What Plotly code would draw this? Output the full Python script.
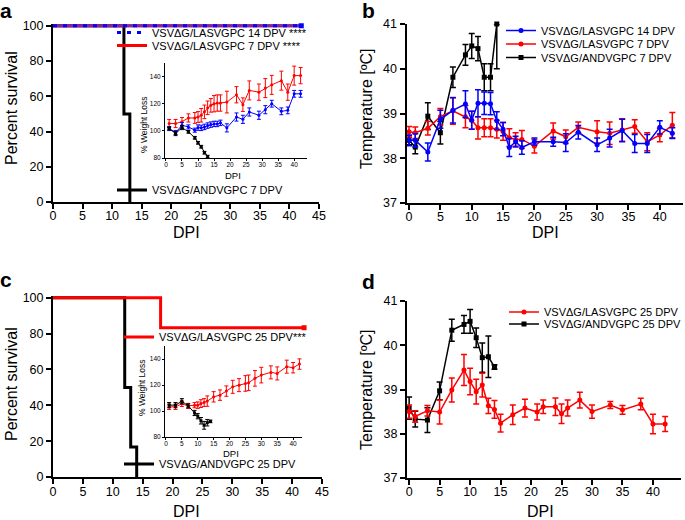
import plotly.graph_objects as go

FONT = "Liberation Sans, Arial, Helvetica, sans-serif"
BLUE = "#0000FF"
RED = "#FF0000"
BLACK = "#000000"
PURPLE = "#7A2AA6"

# ---------------- Panel a : survival ----------------
a_las14_days = [0, 42]
a_las14_pct = [100, 100]
a_las7_days = [0, 42]
a_las7_pct = [100, 100]
a_andv_days = [0, 12, 13]
a_andv_pct = [100, 50, 0]

# Panel a inset : % weight
wa_days = [1, 3, 5, 7, 9, 10, 11, 12, 13, 14, 15, 16, 17, 19, 22, 24, 26, 29, 31, 33, 36, 38, 40, 42]
wa_las7 = [105.4, 105.4, 106.8, 109.5, 109.5, 110.2, 111.5, 114, 117, 118.8, 120, 120.5, 120.5,
           121.2, 126.6, 119.3, 129.8, 128.5, 131.5, 133.9, 137, 128.5, 140.7, 140.7]
wa_las7_err = [3, 3, 3, 3, 4, 4, 5, 5, 5, 5, 6, 6, 6, 8, 6, 5, 7, 6, 7, 7, 7, 6, 7, 6]
wa_las14 = [101.7, 98.8, 104.1, 102.9, 100.5, 102.4, 102.2, 102.9, 103.9, 104.6, 105.1, 105.1, 105.9,
            102.2, 110.2, 108.5, 113.9, 111.5, 115.6, 120, 114.4, 115.1, 127.3, 127.3]
wa_las14_err = [1.5, 1.5, 2, 1.5, 1.5, 2, 2, 2, 2, 2, 2, 2, 2, 3, 3, 3, 3, 3, 3, 2.5, 2.5, 2.5, 2.5, 2.5]
wa_andv_days = [1, 3, 5, 7, 9, 10, 11, 12, 13]
wa_andv = [101.7, 98.0, 102.4, 99.3, 94.9, 91.2, 88.3, 83.9, 81.0]
wa_andv_err = [1, 1.5, 1.5, 1, 1, 1, 1, 1, 1]

# ---------------- Panel b : temperature ----------------
b_days = [0, 1, 3, 5, 7, 9, 10, 11, 12, 13, 14, 15, 16, 17, 18, 20, 23, 25, 27, 30, 32, 34, 36, 38, 40, 42]
b_las14 = [38.40, 38.40, 38.14, 38.87, 39.07, 39.21, 38.85, 39.23, 39.23, 39.22, 38.84, 38.65, 38.24,
           38.37, 38.24, 38.37, 38.37, 38.35, 38.58, 38.30, 38.45, 38.62, 38.33, 38.33, 38.69, 38.56]
b_las14_err = [0.12, 0.15, 0.2, 0.2, 0.28, 0.3, 0.2, 0.3, 0.25, 0.25, 0.2, 0.15, 0.2, 0.12, 0.15,
               0.08, 0.1, 0.2, 0.15, 0.15, 0.2, 0.25, 0.2, 0.2, 0.15, 0.12]
b_las7 = [38.59, 38.57, 38.67, 38.93, 39.06, 38.93, 38.85, 38.68, 38.68, 38.68, 38.65, 38.60, 38.46,
          38.42, 38.42, 38.27, 38.61, 38.48, 38.69, 38.59, 38.56, 38.63, 38.71, 38.37, 38.52, 38.74]
b_las7_err = [0.12, 0.13, 0.15, 0.18, 0.3, 0.25, 0.2, 0.25, 0.2, 0.2, 0.2, 0.2, 0.2, 0.15, 0.2,
              0.15, 0.18, 0.15, 0.12, 0.25, 0.25, 0.25, 0.15, 0.2, 0.15, 0.28]
b_andv_days = [0, 1, 3, 5, 7, 9, 10, 11, 12, 13, 14]
b_andv = [38.40, 38.25, 38.94, 38.57, 39.81, 40.31, 40.51, 40.45, 39.81, 39.81, 41.0]
b_andv_err_plus = [0.1, 0.15, 0.3, 0.25, 0.23, 0.23, 0.28, 0.27, 0.3, 0.3, 0.0]
b_andv_err_minus = [0.1, 0.15, 0.3, 0.25, 0.23, 0.23, 0.28, 0.27, 0.3, 0.3, 1.0]

# ---------------- Panel c : survival ----------------
c_las25_days = [0, 18, 42]
c_las25_pct = [100, 83.3, 83.3]
c_andv_days = [0, 12, 13, 14]
c_andv_pct = [100, 50, 16.7, 0]

# Panel c inset : % weight
wc_las_days = [1, 3, 5, 7, 9, 10, 11, 12, 13, 15, 17, 19, 21, 23, 25, 26, 28, 30, 33, 35, 38, 40, 42]
wc_las = [103.2, 103.2, 105.5, 103.9, 104.5, 104.5, 105.7, 106.5, 107.6, 110.9, 112.2, 115.3, 118.6,
          119.9, 121.2, 121.7, 125.1, 127.6, 129.7, 128.9, 134.1, 133.3, 136.1]
wc_las_err = [2, 2, 2, 2, 2, 2.5, 3, 3, 4, 4, 4, 4, 5, 5, 6, 6, 6, 6, 5, 5, 5, 4, 4]
wc_andv_days = [1, 3, 5, 7, 9, 10, 11, 12, 13, 14]
wc_andv = [104.5, 104.5, 107.5, 104.0, 98.5, 96.0, 92.5, 89.0, 91.0, 92.0]
wc_andv_err = [2, 2, 2, 1.5, 2, 2, 2.5, 3, 2.5, 1]

# ---------------- Panel d : temperature ----------------
d_las_days = [0, 1, 3, 5, 7, 9, 10, 11, 12, 13, 14, 15, 17, 19, 21, 22, 24, 25, 26, 28, 30, 33, 35, 38, 40, 42]
d_las = [38.50, 38.39, 38.52, 38.49, 38.99, 39.44, 39.18, 38.95, 39.10, 38.63, 38.55, 38.24, 38.43,
         38.58, 38.49, 38.61, 38.61, 38.45, 38.58, 38.76, 38.50, 38.65, 38.54, 38.67, 38.22, 38.22]
d_las_err = [0.15, 0.13, 0.12, 0.27, 0.27, 0.35, 0.3, 0.28, 0.27, 0.17, 0.2, 0.2, 0.22, 0.2, 0.18,
             0.15, 0.2, 0.22, 0.18, 0.18, 0.15, 0.08, 0.1, 0.13, 0.22, 0.17]
d_andv_days = [0, 1, 3, 5, 7, 9, 10, 11, 12, 13, 14]
d_andv = [38.58, 38.33, 38.31, 38.97, 40.34, 40.47, 40.54, 40.17, 39.72, 39.74, 39.51]
d_andv_err = [0.25, 0.18, 0.28, 0.2, 0.25, 0.2, 0.27, 0.22, 0.33, 0.47, 0.05]

# labels
L_LAS14_A = "VSVΔG/LASVGPC 14 DPV ****"
L_LAS7_A = "VSVΔG/LASVGPC 7 DPV ****"
L_ANDV7 = "VSVΔG/ANDVGPC 7 DPV"
L_LAS14_B = "VSVΔG/LASVGPC 14 DPV"
L_LAS7_B = "VSVΔG/LASVGPC 7 DPV"
L_LAS25_C = "VSVΔG/LASVGPC 25 DPV***"
L_ANDV25 = "VSVΔG/ANDVGPC 25 DPV"
L_LAS25_D = "VSVΔG/LASVGPC 25 DPV"

W, H = 685, 520


def px(x):
    return x / W


def py(y):
    return 1 - y / H


fig = go.Figure()


def errs(arr, color, minus=None, th=1.5, w=3):
    d = dict(type="data", array=arr, color=color, thickness=th, width=w, visible=True)
    if minus is not None:
        d["symmetric"] = False
        d["arrayminus"] = minus
    return d


# ---- panel a survival (xaxis / yaxis)
fig.add_trace(go.Scatter(x=a_andv_days, y=a_andv_pct, mode="lines", line=dict(color=BLACK, width=3, shape="hv"),
                         name=L_ANDV7, legend="legend3", xaxis="x", yaxis="y"))
fig.add_trace(go.Scatter(x=a_las7_days, y=a_las7_pct, mode="lines", line=dict(color=RED, width=3, shape="hv"),
                         name=L_LAS7_A, legend="legend2", xaxis="x", yaxis="y"))
fig.add_trace(go.Scatter(x=a_las14_days, y=a_las14_pct, mode="lines", line=dict(color=PURPLE, width=3, shape="hv"),
                         showlegend=False, hoverinfo="skip", xaxis="x", yaxis="y"))
fig.add_trace(go.Scatter(x=a_las14_days, y=a_las14_pct, mode="lines",
                         line=dict(color=BLUE, width=3, shape="hv", dash="4px,6px"),
                         name=L_LAS14_A, legend="legend", xaxis="x", yaxis="y"))
fig.add_trace(go.Scatter(x=a_las14_days[-1:], y=a_las14_pct[-1:], mode="markers",
                         marker=dict(color=BLUE, size=5, symbol="square"), showlegend=False,
                         cliponaxis=False, xaxis="x", yaxis="y"))

# ---- panel a inset (x2/y2)
fig.add_trace(go.Scatter(x=wa_days, y=wa_las7, mode="lines+markers", line=dict(color=RED, width=1),
                         marker=dict(color=RED, size=3), error_y=errs(wa_las7_err, RED, th=1, w=2),
                         showlegend=False, xaxis="x2", yaxis="y2"))
fig.add_trace(go.Scatter(x=wa_days, y=wa_las14, mode="lines+markers", line=dict(color=BLUE, width=1),
                         marker=dict(color=BLUE, size=3), error_y=errs(wa_las14_err, BLUE, th=1, w=2),
                         showlegend=False, xaxis="x2", yaxis="y2"))
fig.add_trace(go.Scatter(x=wa_andv_days, y=wa_andv, mode="lines+markers", line=dict(color=BLACK, width=1),
                         marker=dict(color=BLACK, size=3, symbol="square"),
                         error_y=errs(wa_andv_err, BLACK, th=1, w=2), cliponaxis=False,
                         showlegend=False, xaxis="x2", yaxis="y2"))

# ---- panel b (x3/y3)
fig.add_trace(go.Scatter(x=b_andv_days, y=b_andv, mode="lines+markers", line=dict(color=BLACK, width=1.5),
                         marker=dict(color=BLACK, size=5, symbol="square"),
                         error_y=errs(b_andv_err_plus, BLACK, minus=b_andv_err_minus), cliponaxis=False,
                         name=L_ANDV7, legend="legend6", xaxis="x3", yaxis="y3"))
fig.add_trace(go.Scatter(x=b_days, y=b_las7, mode="lines+markers", line=dict(color=RED, width=1.5),
                         marker=dict(color=RED, size=5), error_y=errs(b_las7_err, RED),
                         name=L_LAS7_B, legend="legend5", xaxis="x3", yaxis="y3"))
fig.add_trace(go.Scatter(x=b_days, y=b_las14, mode="lines+markers", line=dict(color=BLUE, width=1.5),
                         marker=dict(color=BLUE, size=5), error_y=errs(b_las14_err, BLUE),
                         name=L_LAS14_B, legend="legend4", xaxis="x3", yaxis="y3"))

# ---- panel c survival (x4/y4)
fig.add_trace(go.Scatter(x=c_andv_days, y=c_andv_pct, mode="lines", line=dict(color=BLACK, width=3, shape="hv"),
                         name=L_ANDV25, legend="legend8", xaxis="x4", yaxis="y4"))
fig.add_trace(go.Scatter(x=c_las25_days, y=c_las25_pct, mode="lines", line=dict(color=RED, width=3, shape="hv"),
                         name=L_LAS25_C, legend="legend7", xaxis="x4", yaxis="y4"))
fig.add_trace(go.Scatter(x=c_las25_days[-1:], y=c_las25_pct[-1:], mode="markers",
                         marker=dict(color=RED, size=5, symbol="square"), showlegend=False,
                         xaxis="x4", yaxis="y4"))

# ---- panel c inset (x5/y5)
fig.add_trace(go.Scatter(x=wc_las_days, y=wc_las, mode="lines+markers", line=dict(color=RED, width=1),
                         marker=dict(color=RED, size=3), error_y=errs(wc_las_err, RED, th=1, w=2),
                         showlegend=False, xaxis="x5", yaxis="y5"))
fig.add_trace(go.Scatter(x=wc_andv_days, y=wc_andv, mode="lines+markers", line=dict(color=BLACK, width=1),
                         marker=dict(color=BLACK, size=3, symbol="square"),
                         error_y=errs(wc_andv_err, BLACK, th=1, w=2),
                         showlegend=False, xaxis="x5", yaxis="y5"))

# ---- panel d (x6/y6)
fig.add_trace(go.Scatter(x=d_andv_days, y=d_andv, mode="lines+markers", line=dict(color=BLACK, width=1.5),
                         marker=dict(color=BLACK, size=5, symbol="square"), error_y=errs(d_andv_err, BLACK),
                         name=L_ANDV25, legend="legend10", xaxis="x6", yaxis="y6"))
fig.add_trace(go.Scatter(x=d_las_days, y=d_las, mode="lines+markers", line=dict(color=RED, width=1.5),
                         marker=dict(color=RED, size=5), error_y=errs(d_las_err, RED),
                         name=L_LAS25_D, legend="legend9", xaxis="x6", yaxis="y6"))

main_ax = dict(showline=True, linecolor=BLACK, linewidth=2, ticks="outside", ticklen=5, tickwidth=2,
               tickcolor=BLACK, showgrid=False, zeroline=False, automargin=False,
               tickfont=dict(size=12.5, color=BLACK, family=FONT))
inset_ax = dict(showline=True, linecolor=BLACK, linewidth=1, ticks="outside", ticklen=2, tickwidth=1,
                tickcolor=BLACK, showgrid=False, zeroline=False, automargin=False,
                tickfont=dict(size=6.5, color=BLACK, family=FONT))
IX_SO = dict(ticklabelstandoff=-2)

layout = dict(
    width=W, height=H, margin=dict(l=0, r=0, t=0, b=0, pad=0, autoexpand=False),
    paper_bgcolor="white", plot_bgcolor="rgba(0,0,0,0)",
    font=dict(family=FONT, color=BLACK),
    xaxis=dict(main_ax, ticklabelstandoff=-4, domain=[px(53), px(319)], range=[0, 45], tick0=0, dtick=5,
               anchor="y"),
    yaxis=dict(main_ax, domain=[py(202), py(24)], range=[0, 101], tick0=0, dtick=20, anchor="x"),
    xaxis2=dict(inset_ax, **IX_SO, domain=[px(165), px(307)], range=[-0.3, 44], tick0=0, dtick=5, anchor="y2"),
    yaxis2=dict(inset_ax, domain=[py(158), py(63)], range=[80, 150], tickvals=[80, 100, 120, 140], anchor="x2"),
    xaxis3=dict(main_ax, ticklabelstandoff=-4, domain=[px(406.5), px(683)], range=[-0.4, 43.7],
                tickvals=[0, 5, 10, 15, 20, 25, 30, 35, 40], anchor="y3"),
    yaxis3=dict(main_ax, domain=[py(203), py(24)], range=[37, 41], dtick=1, anchor="x3"),
    xaxis4=dict(main_ax, ticklabelstandoff=-3, domain=[px(53), px(322)], range=[0, 45], tick0=0, dtick=5,
                anchor="y4"),
    yaxis4=dict(main_ax, domain=[py(477), py(296)], range=[0, 101], tick0=0, dtick=20, anchor="x4"),
    xaxis5=dict(inset_ax, **IX_SO, domain=[px(165), px(302)], range=[-0.3, 42.8], tick0=0, dtick=5, anchor="y5"),
    yaxis5=dict(inset_ax, domain=[py(437), py(346)], range=[80, 150], tickvals=[80, 100, 120, 140], anchor="x5"),
    xaxis6=dict(main_ax, ticklabelstandoff=-4, domain=[px(407), px(681)], range=[-0.35, 44.6],
                tickvals=[0, 5, 10, 15, 20, 25, 30, 35, 40], anchor="y6"),
    yaxis6=dict(main_ax, domain=[py(478), py(301)], range=[37, 41], dtick=1, anchor="x6"),
)

# legends: (name, text-left px, center-y px)
TEXT_OFF = 41
leg_pos = {
    "legend": (153, 32.5), "legend2": (153, 45.5), "legend3": (153, 190),
    "legend4": (542, 30.5), "legend5": (542, 44), "legend6": (542, 57.5),
    "legend7": (160, 337), "legend8": (160, 464),
    "legend9": (545, 312), "legend10": (545, 324),
}
for k, (tx, ty) in leg_pos.items():
    layout[k] = dict(x=px(tx - TEXT_OFF), y=py(ty), xanchor="left", yanchor="middle",
                     bgcolor="rgba(0,0,0,0)", borderwidth=0, itemwidth=30,
                     font=dict(size=11, family=FONT, color=BLACK))

fig.update_layout(**layout)

ann = []


def text(t, x, y, size, angle=0, bold=False):
    ann.append(dict(text=("<b>%s</b>" % t) if bold else t, x=px(x), y=py(y), xref="paper", yref="paper",
                    showarrow=False, textangle=angle, xanchor="center", yanchor="middle",
                    font=dict(size=size, family=FONT, color=BLACK)))


text("a", 6, 10, 21, bold=True)
text("b", 368, 10, 21, bold=True)
text("c", 6, 279, 21, bold=True)
text("d", 368, 281, 21, bold=True)
text("Percent survival", 11, 108, 16, angle=-90)
text("Percent survival", 11, 384, 16, angle=-90)
text("Temperature [ºC]", 366, 108, 16, angle=-90)
text("Temperature [ºC]", 366, 389, 16, angle=-90)
text("DPI", 186, 233, 16)
text("DPI", 545, 233, 16)
text("DPI", 186, 511, 16)
text("DPI", 540, 511, 16)
text("% Weight Loss", 144, 125, 8.5, angle=-90)
text("% Weight Loss", 142, 388, 8.5, angle=-90)
text("DPI", 233, 175, 9.5)
text("DPI", 231, 453, 9.5)
fig.update_layout(annotations=ann)

fig.write_html("out.html", config={"displayModeBar": False},
               post_script="document.body.style.margin='0px';")
